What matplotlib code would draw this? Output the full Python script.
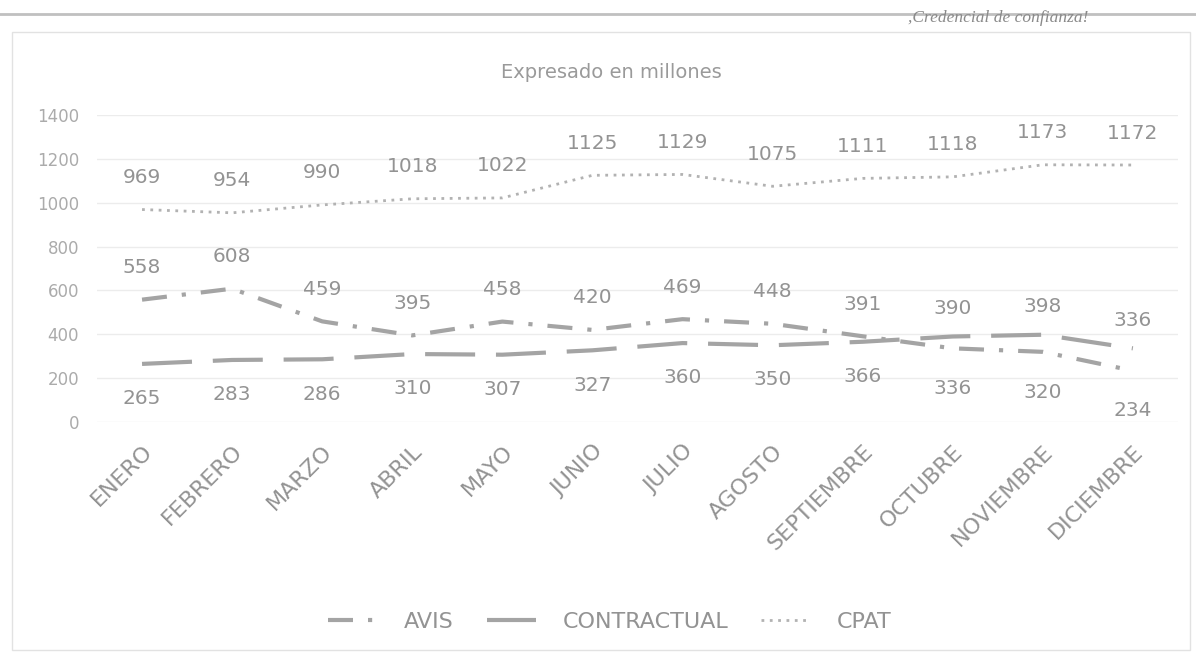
import matplotlib
matplotlib.use('Agg')
import matplotlib.pyplot as plt
from matplotlib.patches import Rectangle
from matplotlib.lines import Line2D

months = ["ENERO", "FEBRERO", "MARZO", "ABRIL", "MAYO", "JUNIO", "JULIO",
          "AGOSTO", "SEPTIEMBRE", "OCTUBRE", "NOVIEMBRE", "DICIEMBRE"]
avis = [558, 608, 459, 395, 458, 420, 469, 448, 391, 336, 320, 234]
contractual = [265, 283, 286, 310, 307, 327, 360, 350, 366, 390, 398, 336]
cpat = [969, 954, 990, 1018, 1022, 1125, 1129, 1075, 1111, 1118, 1173, 1172]
yticks = [0, 200, 400, 600, 800, 1000, 1200, 1400]

line_col = "#a4a4a4"
text_col = "#939393"
avis_ls = (0, (6, 3.6, 1, 3.6))
contr_ls = (0, (12, 5))
cpat_ls = (0, (1, 2))

fig = plt.figure(figsize=(11.96, 6.55), dpi=100)
ax = fig.add_axes([0.0811, 0.3557, 0.9038, 0.4687])

x = list(range(len(months)))
ax.plot(x, avis, color=line_col, lw=3, linestyle=avis_ls, label="AVIS")
ax.plot(x, contractual, color=line_col, lw=3, linestyle=contr_ls,
        label="CONTRACTUAL")
ax.plot(x, cpat, color="#b2b2b2", lw=2, linestyle=cpat_ls, label="CPAT")

lab_kw = dict(textcoords="offset points", ha="center", va="center",
              fontsize=14.5, color=text_col)
for i in x:
    ax.annotate(str(cpat[i]), (i, cpat[i]), xytext=(0, 23), **lab_kw)
    if avis[i] >= contractual[i]:
        ax.annotate(str(avis[i]), (i, avis[i]), xytext=(0, 23), **lab_kw)
        ax.annotate(str(contractual[i]), (i, contractual[i]),
                    xytext=(0, -25), **lab_kw)
    else:
        ax.annotate(str(contractual[i]), (i, contractual[i]),
                    xytext=(0, 20), **lab_kw)
        ax.annotate(str(avis[i]), (i, avis[i]), xytext=(0, -29), **lab_kw)

ax.set_xlim(-0.5, len(months) - 0.5)
ax.set_ylim(0, 1400)
ax.set_yticks(yticks)
ax.set_yticklabels([str(v) for v in yticks], color="#ababab", fontsize=12)
ax.set_xticks(x)
ax.set_xticklabels(months, rotation=45, ha="right", va="top",
                   rotation_mode="anchor", color=text_col, fontsize=16)
ax.tick_params(axis="y", length=0, pad=13)
ax.tick_params(axis="x", length=0, pad=14)
ax.grid(axis="y", color="#ececec", lw=1)
for s in ax.spines.values():
    s.set_visible(False)
ax.set_axisbelow(True)

fig.text(0.511, 0.89, "Expresado en millones", color="#9a9a9a",
         fontsize=14, ha="center", va="center")

handles = [
    Line2D([], [], color=line_col, lw=3, linestyle=avis_ls),
    Line2D([], [], color=line_col, lw=3, linestyle=(0, (20, 2))),
    Line2D([], [], color="#b2b2b2", lw=2, linestyle=cpat_ls),
]
fig.legend(handles, ["AVIS", "CONTRACTUAL", "CPAT"], loc="center",
           bbox_to_anchor=(0.51, 0.05), ncol=3, frameon=False,
           fontsize=16, labelcolor=text_col, handlelength=2.2,
           handletextpad=1.2, columnspacing=1.5)

# page decorations from the scanned document
fig.add_artist(Line2D([0.0, 1.0], [0.979, 0.979], color="#c0c0c0", lw=2,
                      transform=fig.transFigure))
fig.text(0.835, 0.972, ",Credencial de confianza!", fontsize=12.5,
         style="italic", family="Liberation Serif", color="#8a8a8a",
         ha="center", va="center")
fig.add_artist(Rectangle((0.01, 0.008), 0.985, 0.943, fill=False,
                         edgecolor="#e2e2e2", lw=1,
                         transform=fig.transFigure))

fig.savefig("out.png", dpi=100, facecolor="white")
plt.close(fig)
